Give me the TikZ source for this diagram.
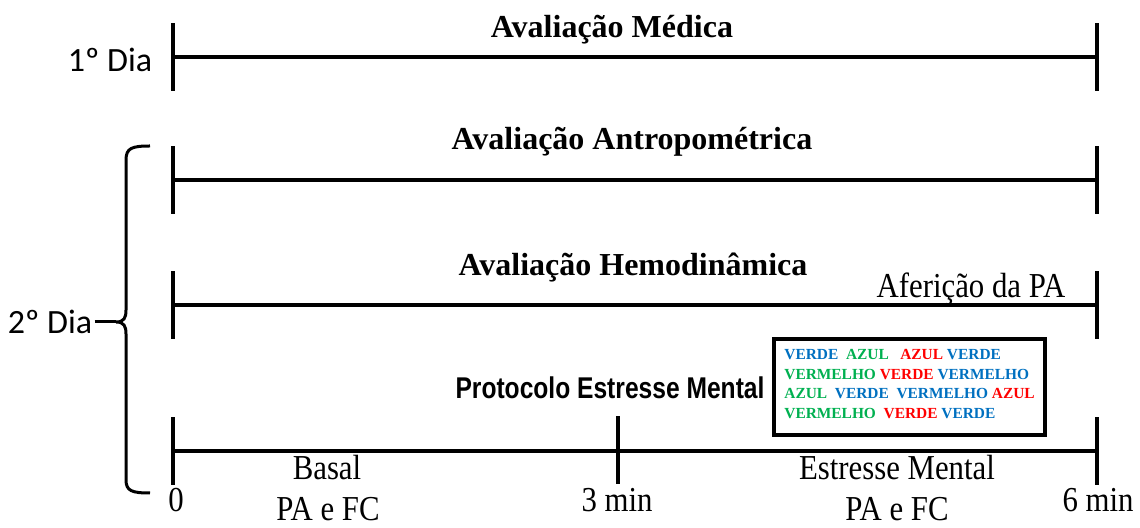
\documentclass[tikz,border=0pt]{standalone}
\usepackage{fontspec}
\setmainfont{Liberation Serif}
\newfontfamily\calibri{Carlito}
\newfontfamily\arialcond[FakeStretch=0.82]{Liberation Sans}
\newfontfamily\timescond[FakeStretch=0.88]{Liberation Serif}
\usepackage{xcolor}
\definecolor{azulc}{HTML}{0070C0}
\definecolor{verdec}{HTML}{00B050}
\definecolor{vermc}{HTML}{FF0000}
\newcommand\cAz[1]{\textcolor{azulc}{#1}}
\newcommand\cVd[1]{\textcolor{verdec}{#1}}
\newcommand\cVm[1]{\textcolor{vermc}{#1}}

\tikzset{
	marca/.style={fill, inner sep=0pt, minimum width=2pt, minimum height=34pt},
	linha/.style={line width=2pt},
	titulo/.style={font=\fontsize{16}{19}\selectfont\bfseries, inner sep=0pt},
	rotulo/.style={font=\timescond\fontsize{17.5}{20}\selectfont, inner sep=0pt},
	dia/.style={font=\calibri\fontsize{17}{20}\selectfont, inner sep=1pt}
}

\begin{document}
\begin{tikzpicture}[x=0.5pt,y=-0.5pt]
		\useasboundingbox (0,0) rectangle (1140,528);
		% 1o dia
		\node[marca] (M0) at (173,57) {};
		\node[marca] (M6) at (1097,57) {};
		\node[titulo] (med) at (612,30) {Avaliação Médica};
		\node[dia] (dia1) at (110,60) {1º Dia};
		% 2o dia
		\node[marca] (A0) at (173,180) {};
		\node[marca] (A6) at (1097,180) {};
		\node[titulo] (antro) at (632,142) {Avaliação Antropométrica};
		\node[marca] (H0) at (173,305) {};
		\node[marca] (H6) at (1097,305) {};
		\node[titulo] (hemo) at (633,268) {Avaliação Hemodinâmica};
		\node[rotulo] (afer) at (971,289) {Aferição da PA};
		\node[marca] (P0) at (173,451) {};
		\node[marca] (P3) at (618,450) {};
		\node[marca] (P6) at (1097,451) {};
		\node[font=\arialcond\bfseries\fontsize{15}{18}\selectfont, inner sep=0pt] (prot) at (610,388) {Protocolo Estresse Mental};
		\node[draw, line width=2pt, minimum width=135.5pt, minimum height=48pt] (cores) at (909.5,387) {};
		\node[anchor=west, align=left, inner sep=0pt, font=\bfseries\fontsize{7.7}{9.75}\selectfont] (palavras) at (784,384)
			{\cAz{VERDE}\ \ \cVd{AZUL}\ \ \ \cVm{AZUL} \cAz{VERDE}\\
			 \cVd{VERMELHO} \cVm{VERDE} \cAz{VERMELHO}\\
			 \cVd{AZUL}\ \ \cAz{VERDE}\ \ \cAz{VERMELHO} \cVm{AZUL}\\
			 \cVd{VERMELHO}\ \ \cVm{VERDE} \cAz{VERDE}};
		\node[rotulo] (t0) at (176,500) {0};
		\node[rotulo] (t3) at (617,500) {3 min};
		\node[rotulo] (t6) at (1098,500) {6 min};
		\node[rotulo] (basal) at (327,468) {Basal};
		\node[rotulo] (basalpa) at (328,509) {PA e FC};
		\node[rotulo] (estr) at (897,468) {Estresse Mental};
		\node[rotulo] (estrpa) at (897,509) {PA e FC};
		\node[dia] (dia2) at (50,322) {2º Dia};
		%
		\path[linha]
			(M0.center) edge (M6.center)
			(A0.center) edge (A6.center)
			(H0.center) edge (H6.center)
			(P0.center) edge (P6.center);
		% chave
		\coordinate (bico) at (116,322);
		\draw[line width=1.5pt] (150,146) .. controls (132,146) and (126,148) .. (126,160) -- (126,310)
			.. controls (126,318) and (124,322) .. (bico)
			.. controls (124,322) and (126,326) .. (126,334) -- (126,480)
			.. controls (126,491) and (132,493) .. (150,493);
		\draw[line width=1.5pt] (dia2) -- (bico);
	\end{tikzpicture}
\end{document}
